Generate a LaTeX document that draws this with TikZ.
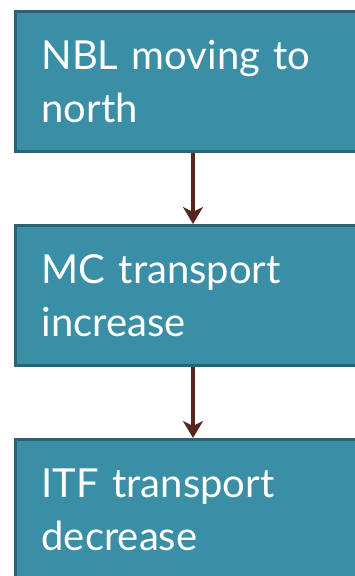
\documentclass[tikz,border=0pt]{standalone}
\usepackage{fontspec}
\setmainfont{Lato}
\usetikzlibrary{positioning,arrows.meta}

\definecolor{boxfill}{RGB}{58,143,166}
\definecolor{boxedge}{RGB}{42,100,116}
\definecolor{arrowbrown}{RGB}{88,38,28}

\begin{document}
\begin{tikzpicture}[x=1pt,y=1pt,
		stepbox/.style={rectangle, draw=boxedge, fill=boxfill, line width=3pt,
			minimum width=350pt, minimum height=140pt, text width=300pt,
			inner xsep=26pt, align=left, text=white,
			font=\fontsize{40}{53}\selectfont},
		flow/.style={draw=arrowbrown, line width=4pt, -{Stealth[length=17pt,width=20pt,inset=5pt]}},
		node distance=71pt]
	\useasboundingbox (0,0) rectangle (355,576);
	\clip (0,0) rectangle (355,576);
	\node[stepbox, anchor=north west] (nbl) at (14,566) {NBL moving to\\north};
	\node[stepbox, below=of nbl] (mc) {MC transport\\increase};
	\node[stepbox, below=of mc] (itf) {ITF transport\\decrease};
	\draw[flow] (nbl.south -| 193,0) -- (mc.north -| 193,0);
	\draw[flow] (mc.south -| 193,0) -- (itf.north -| 193,0);
\end{tikzpicture}
\end{document}
